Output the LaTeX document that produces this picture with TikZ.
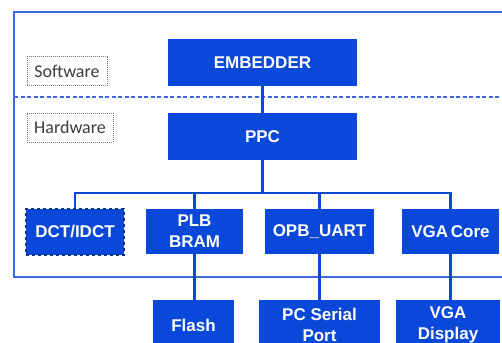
\documentclass[tikz,border=0pt]{standalone}
\usepackage{fontspec}
\setmainfont{Liberation Sans}
\newfontfamily\lblfont{Carlito}
\definecolor{boxblue}{RGB}{10,72,218}
\definecolor{frameblue}{RGB}{60,105,222}
\definecolor{lblgray}{RGB}{60,60,60}
\tikzset{
  blk/.style={fill=boxblue, draw=none, text=white, align=center,
    font=\fontsize{17}{21}\selectfont\bfseries, inner sep=0pt},
  lbl/.style={draw=lblgray!70, densely dotted, line width=1pt, text=lblgray,
    font=\lblfont\fontsize{18}{20}\selectfont, inner sep=0pt},
  conn/.style={draw=boxblue, line width=2.4pt},
  frame/.style={draw=frameblue, line width=1.8pt},
}
\begin{document}
\begin{tikzpicture}[x=1pt,y=-1pt]
\useasboundingbox (0,0) rectangle (502,342);
\clip (0,0) rectangle (502,342);
\fill[white] (0,0) rectangle (502,342);
% outer frame
\draw[frame] (14,12) rectangle (520,277);
\draw[frame, dash pattern=on 4pt off 2.5pt] (14,97) -- (520,97);
% labels
\node[lbl, minimum width=80pt, minimum height=29pt] (sw) at (67,71.5) {Software};
\node[lbl, minimum width=86pt, minimum height=29pt] (hw) at (70,127.5) {Hardware};
% main blocks
\node[blk, minimum width=189pt, minimum height=47pt] (emb) at (262.5,62.5) {EMBEDDER};
\node[blk, minimum width=189pt, minimum height=47pt] (ppc) at (262.5,136.5) {PPC};
\node[blk, minimum width=98pt, minimum height=46pt, draw=boxblue!70!black, dashed, line width=1.5pt] (dct) at (75,232) {DCT/IDCT};
\node[blk, minimum width=97pt, minimum height=45pt] (plb) at (194.5,231.5) {PLB\\BRAM};
\node[blk, minimum width=109pt, minimum height=45pt] (opb) at (319.5,231.5) {OPB\_UART};
\node[blk, minimum width=97pt, minimum height=45pt] (vgac) at (450.5,231.5) {VGA\,Core};
\node[blk, minimum width=81pt, minimum height=50pt] (flash) at (193.5,325) {Flash};
\node[blk, minimum width=121pt, minimum height=50pt] (pcs) at (319.5,325) {PC Serial\\Port};
\node[blk, minimum width=104pt, minimum height=50pt] (vgad) at (448,325) {VGA\\Display};
% connectors
\coordinate (bus) at (262.5,193);
\draw[conn] (emb) -- (ppc);
\draw[conn] (ppc.south) -- (ppc.south |- bus);
\draw[conn] (dct.north) -- (dct.north |- bus) -- (vgac.north |- bus) -- (vgac.north);
\draw[conn] (plb.north) -- (plb.north |- bus);
\draw[conn] (opb.north) -- (opb.north |- bus);
\draw[conn] (plb.south) -- (plb.south |- flash.north);
\draw[conn] (opb.south) -- (opb.south |- pcs.north);
\draw[conn] (vgac.south) -- (vgac.south |- vgad.north);
\end{tikzpicture}
\end{document}
